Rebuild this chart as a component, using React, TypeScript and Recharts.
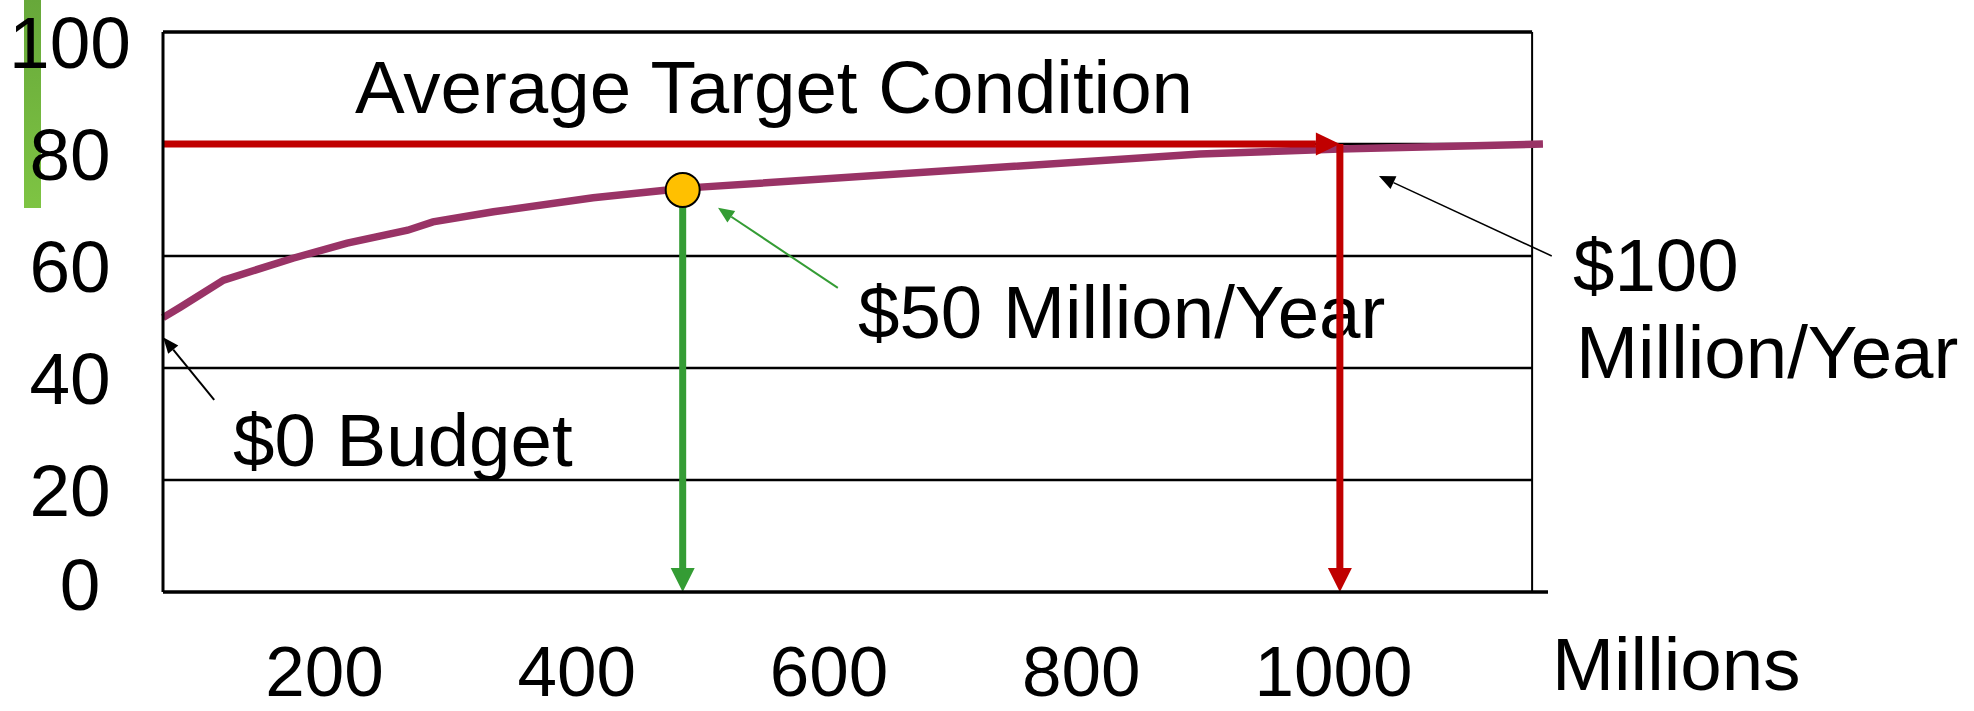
import React from "react";
import {
  LineChart,
  Line,
  XAxis,
  YAxis,
  ReferenceLine,
  ReferenceDot,
  Customized,
} from "recharts";

// budget spent (millions) vs. average condition
const budgetX = [72, 86, 120, 175, 218, 266, 286, 334, 413, 472, 498, 894, 1005, 1166];
const conditionY = [49.0, 50.9, 55.7, 59.6, 62.3, 64.6, 66.1, 67.9, 70.4, 71.8, 72.3, 78.2, 79.1, 80.0];

const xTicks = [200, 400, 600, 800, 1000];
const yTicks = [0, 20, 40, 60, 80, 100];
const gridValues = [20, 40, 60, 80];

const targetCondition = 80;
const fiftyPoint = { x: 484, y: 71.8 };
const hundredX = 1005;
const frameRight = 1157.4;

// pointer arrows for the callouts: [from, to] in data units
const zeroPointer = [{ x: 112.6, y: 34.3 }, { x: 72.1, y: 45.5 }];
const fiftyPointer = [{ x: 607, y: 54.3 }, { x: 512, y: 68.6 }];
const hundredPointer = [{ x: 1173, y: 60 }, { x: 1036, y: 74.3 }];

const data = budgetX.map((b, i) => ({ budget: b, condition: conditionY[i] }));

const FONT = '"Liberation Sans", Arial, sans-serif';
const RED = "#c00000";
const GREEN = "#349c34";
const PURPLE = "#993366";

function arrow(color: string, width: number, headLen: number, headW: number) {
  return (p: any) => {
    const { x1, y1, x2, y2 } = p;
    const dx = x2 - x1;
    const dy = y2 - y1;
    const len = Math.hypot(dx, dy) || 1;
    const ux = dx / len;
    const uy = dy / len;
    const bx = x2 - ux * headLen;
    const by = y2 - uy * headLen;
    const nx = -uy * (headW / 2);
    const ny = ux * (headW / 2);
    return (
      <g>
        <line x1={x1} y1={y1} x2={bx} y2={by} stroke={color} strokeWidth={width} />
        <polygon
          points={`${x2},${y2} ${bx + nx},${by + ny} ${bx - nx},${by - ny}`}
          fill={color}
        />
      </g>
    );
  };
}

function XTick({ x, payload }: any) {
  return (
    <text x={x} y={696} textAnchor="middle" fontSize={71} fontFamily={FONT} fill="#000">
      {payload.value}
    </text>
  );
}

function YTick({ y, payload }: any) {
  const zero = payload.value === 0;
  return (
    <text
      x={zero ? 80 : 70}
      y={zero ? y + 18 : y + 36}
      textAnchor="middle"
      fontSize={73}
      fontFamily={FONT}
      fill="#000"
    >
      {payload.value}
    </text>
  );
}

function Callouts() {
  const t = { fontSize: 74.5, fontFamily: FONT, fill: "#000" };
  return (
    <g>
      <text x={355} y={113} {...t}>Average Target Condition</text>
      <text x={233} y={466} {...t}>$0 Budget</text>
      <text x={858} y={338} {...t}>$50 Million/Year</text>
      <text x={1573} y={291} {...t}>$100</text>
      <text x={1576} y={378} {...t}>Million/Year</text>
      <text x={1552} y={690} {...t}>Millions</text>
    </g>
  );
}

export default function App() {
  return (
    <div style={{ position: "absolute", left: 0, top: 0, width: 1974, height: 711, background: "#fff" }}>
      {/* green accent bar at the left edge */}
      <div
        style={{
          position: "absolute",
          left: 24,
          top: 0,
          width: 17,
          height: 208,
          background: "linear-gradient(#67a83a, #7ec443)",
        }}
      />
      <div style={{ position: "absolute", left: 0, top: 0 }}>
        <LineChart
          width={1974}
          height={711}
          data={data}
          margin={{ top: 32, right: 426, bottom: 0, left: 13 }}
        >
          <XAxis
            dataKey="budget"
            type="number"
            domain={[72, 1170]}
            ticks={xTicks}
            height={119}
            tickLine={false}
            axisLine={{ stroke: "#000", strokeWidth: 3.5 }}
            tick={<XTick />}
            interval={0}
          />
          <YAxis
            type="number"
            domain={[0, 100]}
            ticks={yTicks}
            width={150}
            tickLine={false}
            axisLine={{ stroke: "#000", strokeWidth: 3 }}
            tick={<YTick />}
            interval={0}
          />

          {/* frame + horizontal grid */}
          {gridValues.map((v) => (
            <ReferenceLine
              key={v}
              segment={[{ x: 72, y: v }, { x: frameRight, y: v }]}
              stroke="#000"
              strokeWidth={2.5}
            />
          ))}
          <ReferenceLine
            segment={[{ x: 72, y: 100 }, { x: frameRight, y: 100 }]}
            stroke="#000"
            strokeWidth={3.5}
          />
          <ReferenceLine
            segment={[{ x: frameRight, y: 0 }, { x: frameRight, y: 100 }]}
            stroke="#000"
            strokeWidth={2}
          />

          <Line
            type="linear"
            dataKey="condition"
            stroke={PURPLE}
            strokeWidth={7.5}
            dot={false}
            activeDot={false}
            isAnimationActive={false}
          />

          {/* target line and drop arrows */}
          <ReferenceLine
            segment={[{ x: 72, y: targetCondition }, { x: hundredX, y: targetCondition }]}
            shape={arrow(RED, 7, 24, 23)}
            ifOverflow="visible"
          />
          <ReferenceLine
            segment={[{ x: hundredX, y: targetCondition }, { x: hundredX, y: 0 }]}
            shape={arrow(RED, 7, 24, 24)}
            ifOverflow="visible"
          />
          <ReferenceLine
            segment={[{ x: fiftyPoint.x, y: fiftyPoint.y }, { x: fiftyPoint.x, y: 0 }]}
            shape={arrow(GREEN, 7, 24, 24)}
            ifOverflow="visible"
          />

          {/* callout pointers */}
          <ReferenceLine segment={zeroPointer} shape={arrow("#000", 2, 16, 13)} ifOverflow="visible" />
          <ReferenceLine segment={fiftyPointer} shape={arrow(GREEN, 2, 16, 14)} ifOverflow="visible" />
          <ReferenceLine segment={hundredPointer} shape={arrow("#000", 1.5, 16, 14)} ifOverflow="visible" />

          <ReferenceDot
            x={fiftyPoint.x}
            y={fiftyPoint.y}
            r={17}
            fill="#ffc000"
            stroke="#000"
            strokeWidth={2}
            ifOverflow="visible"
          />

          <Customized component={<Callouts />} />
        </LineChart>
      </div>
    </div>
  );
}
